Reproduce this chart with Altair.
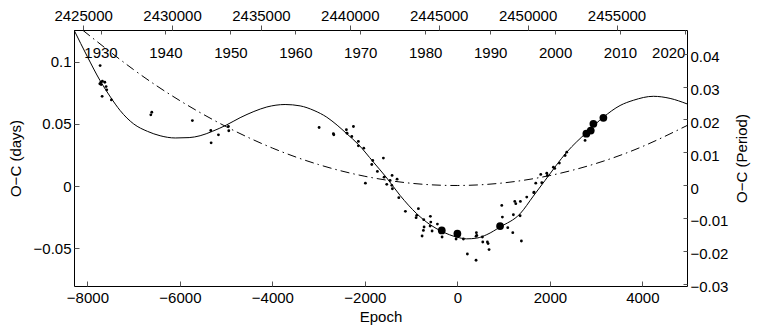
import altair as alt
import pandas as pd

# ---------------- data ----------------
small_epoch = [-7725, -7710, -7732, -7676, -7624, -7596, -7581, -7682, -7481, -7704,
               -6608, -6629, -5730, -5332, -5325, -5167, -4951, -4943,
               -2990, -2681, -2672, -2400, -2385, -2248, -2283, -2141, -2141, -2024,
               -1830, -1851, -1600, -1730, -1585, -1412, -1989, -1455, -1304, -1527,
               -1418, -1405, -1267,
               -1124, -878, -843, -893, -727, -720, -735, -763, -584, -575, -590, -547,
               -432, -331, -28, 130, 411, 419, 216, 404,
               404, 541, 549, 649, 664, 685, 960, 973, 1089, 1198, 1241, 1263, 1362,
               1211, 1356, 1384, 1500, 1652, 1695, 1825,
               1658, 1803, 1933, 1946, 2076, 2106, 2205, 2329, 2365, 2761]
small_oc = [0.0969, 0.0835, 0.0822, 0.0843, 0.0835, 0.0800, 0.0774, 0.0722, 0.0693, 0.0816,
            0.0594, 0.0573, 0.0527, 0.0447, 0.0348, 0.0412, 0.0479, 0.0445,
            0.0471, 0.0421, 0.0413, 0.0453, 0.0425, 0.0479, 0.0399, 0.0359, 0.0324, 0.0305,
            0.0206, 0.0174, 0.0225, 0.0118, 0.0072, 0.0086, 0.0024, 0.0046, 0.0056, 0.0014,
            0.0006, -0.0021, -0.0093,
            -0.0203, -0.0235, -0.0181, -0.0254, -0.0270, -0.0329, -0.0356, -0.0401, -0.0243,
            -0.0289, -0.0321, -0.0361,
            -0.0305, -0.0409, -0.0425, -0.0425, -0.0374, -0.0396, -0.0546, -0.0596,
            -0.0404, -0.0409, -0.0449, -0.0449, -0.0462, -0.0510, -0.0155, -0.0249, -0.0334,
            -0.0374, -0.0123, -0.0141, -0.0123,
            -0.0230, -0.0238, -0.0441, -0.0088, -0.0053, 0.0024, 0.0027,
            -0.0048, 0.0094, 0.0104, 0.0086, 0.0152, 0.0142, 0.0185, 0.0246, 0.0273, 0.0367]

big_epoch = [-338, 0, 923, 2789, 2884, 2941, 3157]
big_oc = [-0.0356, -0.0382, -0.0321, 0.0421, 0.0447, 0.0501, 0.0549]

fit_epoch = [-8290, -8000, -7726, -7500, -7293, -7000, -6700, -6428, -6100, -5800,
             -5563, -5300, -5000, -4698, -4400, -4121, -3725, -3400, -3100, -2824,
             -2600, -2391, -2141, -1816, -1526, -1239, -878, -590, -331, -13,
             200, 419, 636, 923, 1356, 1643, 1896, 2365, 2798, 3157,
             3518, 3805, 4238, 4600, 4965]
fit_oc = [0.1255, 0.1040, 0.0848, 0.0715, 0.0608, 0.0500, 0.0440, 0.0405, 0.0387, 0.0390,
          0.0405, 0.0440, 0.0490, 0.0550, 0.0600, 0.0636, 0.0656, 0.0645, 0.0608, 0.0554,
          0.0490, 0.0421, 0.0335, 0.0193, 0.0065, -0.0075, -0.0222, -0.0310, -0.0365, -0.0410,
          -0.0424, -0.0418, -0.0390, -0.0329, -0.0222, -0.0080, 0.0046, 0.0273, 0.0433, 0.0554,
          0.0648, 0.0690, 0.0722, 0.0705, 0.0661]

quad_epoch = [-8100, -7000, -6000, -5000, -4000, -3000, -2000, -1000, 0,
              1000, 2000, 3000, 4000, 4965]
quad_oc = [0.1253, 0.0936, 0.0687, 0.0478, 0.0306, 0.0173, 0.0079, 0.0023, 0.0005,
           0.0026, 0.0085, 0.0182, 0.0318, 0.0487]

epoch_ticks = [-8000, -6000, -4000, -2000, 0, 2000, 4000]
days_ticks = [-0.05, 0, 0.05, 0.1]
period_ticks = [-0.03, -0.02, -0.01, 0, 0.01, 0.02, 0.03, 0.04]
jd_ticks = [2425000, 2430000, 2435000, 2440000, 2445000, 2450000, 2455000]
year_ticks = [1930, 1940, 1950, 1960, 1970, 1980, 1990, 2000, 2010, 2020]

# ---------------- scales ----------------
W, H = 613, 256
XD = [-8290, 4965]
YD = [-0.0803, 0.1255]
RD = [-0.0307, 0.0472]
T0, P = 2446050.0, 2.6012
JD_D = [T0 + P * XD[0], T0 + P * XD[1]]
YEAR_D = [2000 + (j - 2451544.5) / 365.25 for j in JD_D]

FONT = "Liberation Sans"
FS = 15

xs = alt.Scale(domain=XD, nice=False, zero=False)
ys = alt.Scale(domain=YD, nice=False, zero=False)

small_df = pd.DataFrame({"E": small_epoch, "OC": small_oc})
big_df = pd.DataFrame({"E": big_epoch, "OC": big_oc})
fit_df = pd.DataFrame({"E": fit_epoch, "OC": fit_oc})
quad_df = pd.DataFrame({"E": quad_epoch, "OC": quad_oc})

fit = alt.Chart(fit_df).mark_line(color="black", strokeWidth=1, interpolate="monotone", clip=True).encode(
    x=alt.X("E:Q", scale=xs, axis=alt.Axis(orient="bottom", values=epoch_ticks, format="d", offset=-5,
                                            tickSize=5, domain=False, labelPadding=4, title="Epoch",
                                            titlePadding=4, labelFlush=False)),
    y=alt.Y("OC:Q", scale=ys, axis=alt.Axis(orient="left", values=days_ticks, format=".2~f", offset=-5,
                                             tickSize=5, domain=False, labelPadding=3, title="O−C (days)",
                                             titlePadding=10)),
)

quad = alt.Chart(quad_df).mark_line(color="black", strokeWidth=1, interpolate="natural",
                                    strokeDash=[9, 4, 1.5, 4], clip=True).encode(
    x=alt.X("E:Q", scale=xs, axis=None),
    y=alt.Y("OC:Q", scale=ys, axis=None),
)

small = alt.Chart(small_df).mark_circle(color="black", size=8, opacity=1).encode(
    x=alt.X("E:Q", scale=xs, axis=None),
    y=alt.Y("OC:Q", scale=ys, axis=None),
)

big = alt.Chart(big_df).mark_circle(color="black", size=60, opacity=1).encode(
    x=alt.X("E:Q", scale=xs, axis=None),
    y=alt.Y("OC:Q", scale=ys, axis=None),
)

jd_layer = alt.Chart(pd.DataFrame({"JD": jd_ticks})).mark_point(opacity=0).encode(
    x=alt.X("JD:Q", scale=alt.Scale(domain=JD_D, nice=False, zero=False),
            axis=alt.Axis(orient="top", values=jd_ticks, format="d", tickSize=5, labelPadding=2,
                          domain=False, title=None, labelFlush=False)),
)

year_layer = alt.Chart(pd.DataFrame({"Yr": year_ticks})).mark_point(opacity=0).encode(
    x=alt.X("Yr:Q", scale=alt.Scale(domain=YEAR_D, nice=False, zero=False),
            axis=alt.Axis(orient="bottom", offset=-H, values=year_ticks, format="d", tickSize=4,
                          labelPadding=11, domain=False, title=None, labelFlush=6)),
)

right_layer = alt.Chart(pd.DataFrame({"R": period_ticks})).mark_point(opacity=0).encode(
    y=alt.Y("R:Q", scale=alt.Scale(domain=RD, nice=False, zero=False),
            axis=alt.Axis(orient="right", values=period_ticks, format=".2~f", offset=-4, tickSize=4,
                          labelPadding=3, labelOffset=3, domain=False, title="O−C (Period)",
                          titleAngle=270, titlePadding=22)),
)

chart = alt.layer(fit, quad, small, big, jd_layer, year_layer, right_layer).resolve_scale(
    x="independent", y="independent"
).properties(
    width=W, height=H, padding={"left": 0, "top": 0, "right": 5, "bottom": 2}
).configure_view(
    stroke="black", strokeWidth=1
).configure_axis(
    labelFont=FONT, titleFont=FONT, labelFontSize=FS, titleFontSize=FS,
    titleFontWeight="normal", labelColor="black", titleColor="black",
    tickColor="#555", grid=False,
)

chart.save("out.html", embed_options={"renderer": "svg", "actions": False})
